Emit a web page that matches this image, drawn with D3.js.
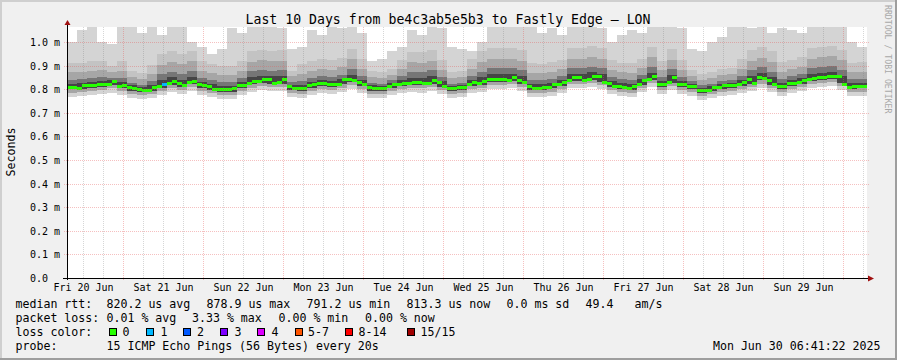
<!DOCTYPE html>
<html><head><meta charset="utf-8">
<script src="https://cdn.jsdelivr.net/npm/d3@7"></script>
<style>
body{margin:0;background:#f0f0f0;overflow:hidden;}
svg text{font-family:"DejaVu Sans Mono",monospace;fill:#000;}
</style></head><body>
<svg id="c" width="897" height="360"></svg>
<script>
// ---------------- data ----------------
const title = "Last 10 Days from be4c3ab5e5b3 to Fastly Edge \u2014 LON";
const startTime = "2025-06-20T07:12:00Z";
const endTime   = "2025-06-30T07:12:00Z";
const medianStepHours = 1.5;
const smokeStepHours = 3;

// median rtt (ms), one value per 1.5 h
const median = [
 .811,.811,.807,.818,.818,.818,.820,.822,.820,.835,
 .815,.818,.808,.805,.800,.798,.796,.810,.815,.820,
 .826,.835,.825,.818,.830,.836,.820,.818,.815,.800,
 .800,.800,.800,.806,.818,.818,.828,.835,.835,.842,
 .842,.825,.830,.842,.814,.804,.804,.806,.816,.820,
 .826,.828,.822,.822,.822,.842,.842,.840,.832,.820,
 .808,.804,.804,.804,.814,.820,.824,.825,.826,.832,
 .830,.825,.828,.840,.832,.814,.804,.804,.808,.808,
 .820,.832,.825,.835,.844,.844,.844,.844,.840,.850,
 .840,.830,.815,.804,.804,.810,.810,.820,.820,.830,
 .840,.850,.850,.840,.845,.858,.855,.832,.828,.815,
 .815,.810,.806,.815,.820,.840,.844,.855,.822,.820,
 .830,.850,.822,.822,.814,.812,.796,.796,.796,.810,
 .810,.818,.818,.818,.820,.832,.844,.825,.850,.848,
 .840,.820,.814,.814,.825,.825,.832,.840,.842,.848,
 .850,.850,.854,.856,.855,.820,.810,.815,.815,.814];

// packet loss (pings lost of 15) at median sample index
const lossIndex = [19];
const lossCount = [1];

// smoke envelopes (ms), one value per 3 h: highest ping, upper quantiles, lower quantiles
const pingMax = [
 1.0,1.05,1.1,1.0,0.99,1.1,1.08,1.04,1.1,1.03,
 1.1,1.08,1.0,0.98,0.95,0.97,1.06,1.04,1.1,1.1,
 1.1,1.06,0.97,0.98,1.05,1.03,1.08,1.06,1.1,1.04,
 0.92,0.93,0.96,0.98,1.05,1.03,1.08,1.06,0.98,0.97,
 0.96,1.0,1.1,1.08,1.1,1.1,1.07,1.04,1.06,1.03,
 1.1,1.1,1.1,1.06,1.0,1.03,1.05,1.04,1.08,1.1,
 1.1,1.06,0.97,0.96,1.0,1.02,1.1,1.1,1.06,1.08,
 1.04,1.06,1.05,1.04,1.08,1.1,1.1,1.08,1.0,0.98];
const pingHigh2 = [
 .911,.912,.918,.921,.898,.919,.876,.869,.903,.948,
 .960,.951,.963,.919,.907,.900,.900,.918,.962,.968,
 .964,.966,.879,.905,.918,.927,.922,.932,.971,.926,
 .876,.874,.887,.925,.959,.958,.966,.923,.874,.878,
 .926,.960,.974,.974,.975,.965,.910,.907,.915,.925,
 .975,.975,.981,.974,.922,.913,.910,.930,.980,.921,
 .970,.922,.883,.866,.873,.884,.888,.926,.965,.979,
 .960,.914,.925,.936,.975,.980,.985,.968,.913,.915];
const pingHigh3 = [
 .871,.872,.878,.881,.873,.879,.851,.844,.863,.903,
 .915,.906,.918,.879,.867,.860,.860,.878,.917,.923,
 .919,.921,.854,.865,.878,.887,.882,.892,.926,.886,
 .851,.849,.862,.885,.914,.913,.921,.883,.849,.853,
 .886,.915,.929,.929,.930,.920,.870,.867,.875,.885,
 .930,.930,.936,.929,.882,.873,.870,.890,.935,.881,
 .925,.882,.858,.841,.848,.859,.863,.886,.920,.934,
 .915,.874,.885,.896,.930,.935,.940,.923,.873,.875];
const pingHigh4 = [
 .841,.842,.848,.851,.848,.849,.826,.819,.833,.863,
 .875,.866,.878,.849,.837,.830,.830,.848,.877,.883,
 .879,.881,.829,.835,.848,.857,.852,.862,.886,.856,
 .826,.824,.837,.855,.874,.873,.881,.853,.824,.828,
 .856,.875,.889,.889,.890,.880,.840,.837,.845,.855,
 .890,.890,.896,.889,.852,.843,.840,.860,.895,.851,
 .885,.852,.833,.816,.823,.834,.838,.856,.880,.894,
 .875,.844,.855,.866,.890,.895,.900,.883,.843,.845];
const pingHigh5 = [
 .824,.825,.831,.834,.838,.832,.816,.809,.816,.838,
 .850,.841,.853,.832,.820,.813,.813,.831,.852,.858,
 .854,.856,.819,.818,.831,.840,.835,.845,.861,.839,
 .816,.814,.827,.838,.849,.848,.856,.836,.814,.818,
 .839,.850,.864,.864,.865,.855,.823,.820,.828,.838,
 .865,.865,.871,.864,.835,.826,.823,.843,.870,.834,
 .860,.835,.823,.806,.813,.824,.828,.839,.855,.869,
 .850,.827,.838,.849,.865,.870,.875,.858,.826,.828];
const pingMin = [
 .769,.770,.776,.779,.786,.777,.764,.757,.761,.776,
 .788,.779,.791,.777,.765,.758,.758,.776,.790,.796,
 .792,.794,.767,.763,.776,.785,.780,.790,.799,.784,
 .764,.762,.775,.783,.787,.786,.794,.781,.762,.766,
 .784,.788,.802,.802,.803,.793,.768,.765,.773,.783,
 .803,.803,.809,.802,.780,.771,.768,.788,.808,.779,
 .798,.780,.771,.754,.761,.772,.776,.784,.793,.807,
 .788,.772,.783,.794,.803,.808,.813,.796,.771,.773];
const pingLow2 = [
 .786,.787,.793,.796,.803,.794,.781,.774,.778,.793,
 .805,.796,.808,.794,.782,.775,.775,.793,.807,.813,
 .809,.811,.784,.780,.793,.802,.797,.807,.816,.801,
 .781,.779,.792,.800,.804,.803,.811,.798,.779,.783,
 .801,.805,.819,.819,.820,.810,.785,.782,.790,.800,
 .820,.820,.826,.819,.797,.788,.785,.805,.825,.796,
 .815,.797,.788,.771,.778,.789,.793,.801,.810,.824,
 .805,.789,.800,.811,.820,.825,.830,.813,.788,.790];
const pingLow3 = [
 .799,.800,.806,.809,.816,.807,.794,.787,.791,.806,
 .818,.809,.821,.807,.795,.788,.788,.806,.820,.826,
 .822,.824,.797,.793,.806,.815,.810,.820,.829,.814,
 .794,.792,.805,.813,.817,.816,.824,.811,.792,.796,
 .814,.818,.832,.832,.833,.823,.798,.795,.803,.813,
 .833,.833,.839,.832,.810,.801,.798,.818,.838,.809,
 .828,.810,.801,.784,.791,.802,.806,.814,.823,.837,
 .818,.802,.813,.824,.833,.838,.843,.826,.801,.803];

const yTicks = [0,0.1,0.2,0.3,0.4,0.5,0.6,0.7,0.8,0.9,1.0];
const yTickLabels = ["0.0","0.1 m","0.2 m","0.3 m","0.4 m","0.5 m","0.6 m","0.7 m","0.8 m","0.9 m","1.0 m"];
const dayTicks = ["2025-06-20T12:00:00Z","2025-06-21T12:00:00Z","2025-06-22T12:00:00Z","2025-06-23T12:00:00Z","2025-06-24T12:00:00Z",
                  "2025-06-25T12:00:00Z","2025-06-26T12:00:00Z","2025-06-27T12:00:00Z","2025-06-28T12:00:00Z","2025-06-29T12:00:00Z"];
const dayLabels = ["Fri 20 Jun","Sat 21 Jun","Sun 22 Jun","Mon 23 Jun","Tue 24 Jun","Wed 25 Jun","Thu 26 Jun","Fri 27 Jun","Sat 28 Jun","Sun 29 Jun"];

const rttLegend = ["median rtt:","820.2 us avg","878.9 us max","791.2 us min","813.3 us now","0.0 ms sd","49.4","am/s"];
const lossLegend = ["packet loss:","0.01 % avg","3.33 % max","0.00 % min","0.00 % now"];
const lossColorLabels = ["0","1","2","3","4","5-7","8-14","15/15"];
const lossColors = ["#26ff00","#00b8ff","#0059ff","#7e00ff","#dd00ff","#ff5500","#ff0000","#a10000"];
const probeLegend = ["probe:","15 ICMP Echo Pings (56 Bytes) every 20s"];
const stamp = "Mon Jun 30 06:41:22 2025";
const sideText = "RRDTOOL / TOBI OETIKER";
const yAxisTitle = "Seconds";

// ---------------- layout ----------------
const W = 897, H = 360;
const L = 67, R = 867, T = 27, B = 278;
const svg = d3.select("#c");
const t0 = new Date(startTime), t1 = new Date(endTime);
const x = d3.scaleUtc().domain([t0, t1]).range([L, R]);
const y = d3.scaleLinear().domain([0, 1.0636]).range([B, T]);
const HOUR = 3600e3;

// background & frame
svg.append("rect").attr("width", W).attr("height", H).attr("fill", "#f0f0f0");
svg.append("rect").attr("x",0).attr("y",0).attr("width",W).attr("height",2).attr("fill","#cfcfcf");
svg.append("rect").attr("x",0).attr("y",0).attr("width",2).attr("height",H).attr("fill","#cfcfcf");
svg.append("rect").attr("x",0).attr("y",H-2).attr("width",W).attr("height",2).attr("fill","#9e9e9e");
svg.append("rect").attr("x",W-2).attr("y",0).attr("width",2).attr("height",H).attr("fill","#9e9e9e");

svg.append("rect").attr("x", L).attr("y", T).attr("width", R - L).attr("height", B - T).attr("fill", "#fff");

svg.append("clipPath").attr("id","plot").append("rect")
  .attr("x", L).attr("y", T).attr("width", R - L).attr("height", B - T);
const plot = svg.append("g").attr("clip-path","url(#plot)");

// smoke
const smoke = d3.range(pingMax.length + 1).map(j => {
  const k = Math.min(j, pingMax.length - 1);
  return {t: new Date(+t0 + j * smokeStepHours * HOUR),
    max: pingMax[k], h2: pingHigh2[k], h3: pingHigh3[k], h4: pingHigh4[k], h5: pingHigh5[k],
    min: pingMin[k], l2: pingLow2[k], l3: pingLow3[k]};
});
const layers = [
  ["min","max","#d4d4d4"],
  ["l2","h2","#c3c3c3"],
  ["l2","h3","#a6a6a6"],
  ["l3","h4","#767676"],
  ["l3","h5","#454545"]
];
layers.forEach(([lo, hi, col]) => {
  const area = d3.area().curve(d3.curveStepAfter)
    .x(d => x(d.t)).y0(d => y(d[lo])).y1(d => y(d[hi]));
  plot.append("path").datum(smoke).attr("d", area).attr("fill", col).attr("shape-rendering","crispEdges");
});

// median with loss colour
const lossAt = i => { const p = lossIndex.indexOf(i); return p < 0 ? 0 : lossCount[p]; };
const lossColorIdx = n => n <= 4 ? n : (n <= 7 ? 5 : (n <= 14 ? 6 : 7));
plot.selectAll("rect.med").data(median).enter().append("rect").attr("class","med")
  .attr("x", (d,i) => x(new Date(+t0 + i * medianStepHours * HOUR)))
  .attr("width", (d,i) => x(new Date(+t0 + (i+1) * medianStepHours * HOUR)) - x(new Date(+t0 + i * medianStepHours * HOUR)))
  .attr("y", d => Math.round(y(d)) - 1.5)
  .attr("height", 3.5)
  .attr("fill", (d,i) => lossColors[lossColorIdx(lossAt(i))])
  .attr("shape-rendering","crispEdges");

// grid (drawn on top, as rrdtool does)
const grid = svg.append("g").attr("shape-rendering","crispEdges");
const minor = x.ticks(d3.utcHour.every(6)).filter(d => d.getUTCHours() !== 0);
const major = x.ticks(d3.utcDay.every(1));
grid.selectAll("line.mi").data(minor).enter().append("line")
  .attr("x1", d => Math.round(x(d)) + 0.5).attr("x2", d => Math.round(x(d)) + 0.5)
  .attr("y1", T).attr("y2", B)
  .attr("stroke", "rgba(120,120,120,0.3)").attr("stroke-dasharray","1,1");
grid.selectAll("line.ma").data(major).enter().append("line")
  .attr("x1", d => Math.round(x(d)) + 0.5).attr("x2", d => Math.round(x(d)) + 0.5)
  .attr("y1", T).attr("y2", B + 2)
  .attr("stroke", "rgba(230,90,90,0.38)").attr("stroke-dasharray","1,1");
grid.selectAll("line.hy").data(yTicks.slice(1)).enter().append("line")
  .attr("x1", L - 3).attr("x2", R + 2)
  .attr("y1", d => Math.round(y(d)) + 0.5).attr("y2", d => Math.round(y(d)) + 0.5)
  .attr("stroke", "rgba(230,90,90,0.38)").attr("stroke-dasharray","1,1");

// axes
const yAxis = d3.axisLeft(y).tickValues(yTicks).tickFormat((d,i) => yTickLabels[i]).tickSize(0).tickPadding(0);
const gy = svg.append("g").attr("transform", `translate(${L},0)`).call(yAxis);
gy.select(".domain").remove();
gy.selectAll("text").attr("text-anchor","start").attr("x", 30 - L).attr("dy", null)
  .attr("y", 3.5).style("font-family", '"DejaVu Sans Mono",monospace').style("font-size","10px").attr("fill","#000");

const xAxis = d3.axisBottom(x).tickValues(dayTicks.map(s => new Date(s))).tickFormat((d,i) => dayLabels[i]).tickSize(0).tickPadding(0);
const gx = svg.append("g").attr("transform", `translate(0,${B})`).call(xAxis);
gx.select(".domain").remove();
gx.selectAll("text").attr("dy", null).attr("y", 13)
  .style("font-family", '"DejaVu Sans Mono",monospace').style("font-size","10px").attr("fill","#000");

svg.append("line").attr("x1", L + 0.5).attr("x2", L + 0.5).attr("y1", B + 2).attr("y2", 23)
  .attr("stroke","#000").attr("shape-rendering","crispEdges");
svg.append("line").attr("x1", L - 4).attr("x2", 869).attr("y1", B + 0.5).attr("y2", B + 0.5)
  .attr("stroke","#000").attr("shape-rendering","crispEdges");
svg.append("path").attr("d", `M${L-2.5},25 L${L+3.5},25 L${L+0.5},20 Z`).attr("fill","#a01010");
svg.append("path").attr("d", `M868,${B-2.5} L868,${B+3.5} L874,${B+0.5} Z`).attr("fill","#a01010");

// titles
svg.append("text").attr("x", 448).attr("y", 24).attr("text-anchor","middle")
  .style("font-size","13.2px").text(title);
svg.append("text").attr("transform","translate(14.5,152) rotate(-90)").attr("text-anchor","middle")
  .style("font-size","11.6px").text(yAxisTitle);
svg.append("text").attr("transform","translate(885,5) rotate(90)")
  .style("font-size","8.2px").style("fill","#a8a8a8").text(sideText);

// legend
const lg = svg.append("g").style("font-size","11.6px");
const rttX = [15.5,106.5,206.5,306.5,406.5,506.5,585.5,634.5];
rttLegend.forEach((s,i) => lg.append("text").attr("x", rttX[i]).attr("y", 307.5).text(s));
const lossX = [15.5,106.5,192,278.5,365];
lossLegend.forEach((s,i) => lg.append("text").attr("x", lossX[i]).attr("y", 321.5).text(s));
lg.append("text").attr("x", 15.5).attr("y", 336).text("loss color:");
const sqX = [108.5,146,183,219.5,257,294.5,344.5,407];
const sqLabX = [122.5,160.5,197,234.5,271.5,308,358.5,420.5];
lossColorLabels.forEach((s,i) => {
  lg.append("rect").attr("x", Math.round(sqX[i]) + 0.5).attr("y", 328.5).attr("width", 7).attr("height", 7)
    .attr("fill", lossColors[i]).attr("stroke","#000").attr("shape-rendering","crispEdges");
  lg.append("text").attr("x", sqLabX[i]).attr("y", 336).text(s);
});
probeLegend.forEach((s,i) => lg.append("text").attr("x", [15.5,106.5][i]).attr("y", 350).text(s));
lg.append("text").attr("x", 880.5).attr("y", 350).attr("text-anchor","end").text(stamp);
</script>
</body></html>
